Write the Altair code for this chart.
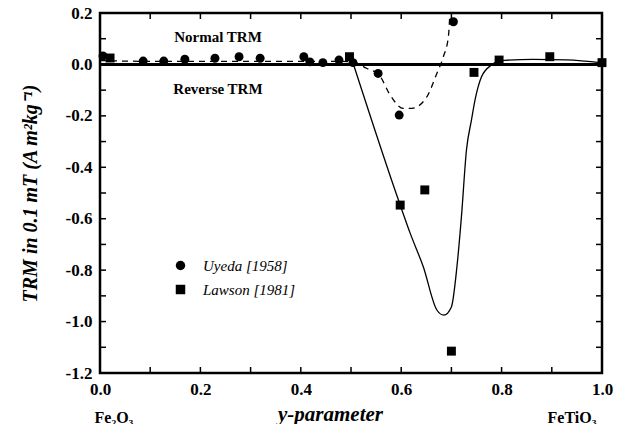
import altair as alt
import pandas as pd

# ---- data ----
uyeda_x = [0.006, 0.086, 0.127, 0.169, 0.229, 0.277, 0.319, 0.406, 0.418, 0.444, 0.476, 0.504, 0.554, 0.596, 0.704]
uyeda_y = [0.033, 0.013, 0.013, 0.020, 0.024, 0.030, 0.024, 0.030, 0.010, 0.007, 0.017, 0.007, -0.035, -0.197, 0.166]
lawson_x = [0.020, 0.497, 0.598, 0.647, 0.700, 0.745, 0.795, 0.896, 1.000]
lawson_y = [0.025, 0.030, -0.547, -0.488, -1.115, -0.031, 0.017, 0.030, 0.007]

lawson_fit_x = [0.505, 0.598, 0.618, 0.644, 0.671, 0.685, 0.700, 0.711, 0.720, 0.730, 0.740, 0.747, 0.760, 0.780, 0.795, 0.863, 0.930, 1.000]
lawson_fit_y = [0.0, -0.547, -0.657, -0.787, -0.955, -0.975, -0.943, -0.787, -0.592, -0.333, -0.216, -0.139, -0.048, -0.002, 0.014, 0.020, 0.018, 0.006]

uyeda_fit_x = [0.0, 0.1, 0.2, 0.3, 0.4, 0.48, 0.505, 0.531, 0.556, 0.578, 0.604, 0.621, 0.651, 0.671, 0.684, 0.694, 0.697]
uyeda_fit_y = [0.015, 0.012, 0.012, 0.012, 0.012, 0.012, 0.009, -0.015, -0.041, -0.119, -0.171, -0.171, -0.126, -0.035, 0.030, 0.108, 0.199]

x_label_values = [0.0, 0.2, 0.4, 0.6, 0.8, 1.0]
x_tick_values = [0.1, 0.2, 0.3, 0.4, 0.5, 0.6, 0.7, 0.8, 0.9]
y_label_values = [-1.2, -1.0, -0.8, -0.6, -0.4, -0.2, 0.0, 0.2]
y_tick_values = [-1.1, -1.0, -0.9, -0.8, -0.7, -0.6, -0.5, -0.4, -0.3, -0.2, -0.1, 0.0, 0.1]
end_values = [0.0, 1.0]

region_labels = ["Normal TRM", "Reverse TRM"]
region_x = [0.235, 0.235]
region_y = [0.107, -0.096]

series_names = ["Uyeda [1958]", "Lawson [1981]"]

SERIF = "Liberation Serif"
W, H = 502, 360
TICK = 6

xs = alt.Scale(domain=[0, 1], nice=False, zero=False)
ys = alt.Scale(domain=[-1.2, 0.2], nice=False, zero=False)

pts = pd.DataFrame({
    "x": uyeda_x + lawson_x,
    "y": uyeda_y + lawson_y,
    "source": [series_names[0]] * len(uyeda_x) + [series_names[1]] * len(lawson_x),
})
lfit = pd.DataFrame({"x": lawson_fit_x, "y": lawson_fit_y})
ufit = pd.DataFrame({"x": uyeda_fit_x, "y": uyeda_fit_y})
regions = pd.DataFrame({"x": region_x, "y": region_y, "label": region_labels})
zero = pd.DataFrame({"y": [0.0]})
xt = pd.DataFrame({"v": x_tick_values})
yt = pd.DataFrame({"v": y_tick_values})

# Layer: zero line + labelled bottom / left axes
zero_line = alt.Chart(zero).mark_rule(color="black", strokeWidth=3).encode(
    x=alt.datum(0, scale=xs, axis=alt.Axis(
        orient="bottom", values=x_label_values, format=".1f",
        ticks=False, domain=False, grid=False, labelOverlap=False,
        labelFont=SERIF, labelFontWeight="bold", labelFontSize=17, labelColor="black",
        labelPadding=8, labelFlush=False,
        title="y-parameter", titleFont=SERIF, titleFontStyle="italic", titleFontWeight="bold",
        titleFontSize=21, titleColor="black", titleX=230, titleY=47, titleBaseline="alphabetic",
        titleAlign="center")),
    x2=alt.datum(1),
    y=alt.Y("y:Q", scale=ys, axis=alt.Axis(
        orient="left", values=y_label_values,
        labelExpr="replace(format(datum.value, '.1f'), '\u2212', '-')",
        ticks=False, domain=False, grid=False, labelOverlap=False,
        labelFont=SERIF, labelFontWeight="bold", labelFontSize=17, labelColor="black", labelPadding=8,
        labelFlush=False,
        title="TRM in 0.1 mT (A m\u00b2kg\u207b\u00b9)", titleFont=SERIF, titleFontStyle="italic",
        titleFontWeight="bold", titleFontSize=20, titleColor="black", titleX=-70, titleY=180,
        titleAngle=270, titleAlign="center", titleBaseline="middle")),
)

# inward tick marks on all four sides, drawn from the tick-value arrays
tick_style = dict(color="black", strokeWidth=1.5)
ticks_bottom = alt.Chart(xt).mark_rule(**tick_style).encode(
    x=alt.X("v:Q", scale=xs, axis=None), y=alt.value(H), y2=alt.value(H - TICK))
ticks_top = alt.Chart(xt).mark_rule(**tick_style).encode(
    x=alt.X("v:Q", scale=xs, axis=None), y=alt.value(0), y2=alt.value(TICK))
ticks_left = alt.Chart(yt).mark_rule(**tick_style).encode(
    y=alt.Y("v:Q", scale=ys, axis=None), x=alt.value(0), x2=alt.value(TICK))
ticks_right = alt.Chart(yt).mark_rule(**tick_style).encode(
    y=alt.Y("v:Q", scale=ys, axis=None), x=alt.value(W), x2=alt.value(W - TICK))

# Lawson fit (solid)
solid = alt.Chart(lfit).mark_line(color="black", strokeWidth=1.3, interpolate="monotone").encode(
    x=alt.X("x:Q", scale=xs, axis=None),
    y=alt.Y("y:Q", scale=ys, axis=None),
)

# Uyeda fit (dashed)
dashed = alt.Chart(ufit).mark_line(color="black", strokeWidth=1.3, strokeDash=[6, 5],
                                   interpolate="monotone").encode(
    x=alt.X("x:Q", scale=xs, axis=None),
    y=alt.Y("y:Q", scale=ys, axis=None),
)

# data points + end-member labels
points = alt.Chart(pts).mark_point(filled=True, color="black", size=80, opacity=1).encode(
    x=alt.X("x:Q", scale=xs, axis=alt.Axis(
        orient="bottom", values=end_values,
        labelExpr="datum.value < 0.5 ? 'Fe\u2082O\u2083' : 'FeTiO\u2083'",
        labelAlign={"condition": {"test": "datum.value < 0.5", "value": "left"}, "value": "right"},
        ticks=False, tickSize=0, domain=False, grid=False, labelFlush=False, labelOverlap=False,
        labelFont=SERIF, labelFontWeight="bold", labelFontSize=16, labelColor="black",
        labelPadding=36, labelOffset=-6, title=None)),
    y=alt.Y("y:Q", scale=ys, axis=None),
    shape=alt.Shape("source:N", scale=alt.Scale(domain=series_names, range=["circle", "square"]),
                    legend=alt.Legend(orient="none", legendX=73, legendY=245, title=None,
                                      symbolSize=90, symbolFillColor="black", symbolStrokeColor="black",
                                      symbolStrokeWidth=0, labelFont=SERIF, labelFontStyle="italic",
                                      labelFontSize=15, labelColor="black", labelOffset=15,
                                      rowPadding=8, padding=0)),
)

# region labels
texts = alt.Chart(regions).mark_text(font=SERIF, fontWeight="bold", fontSize=15, color="black",
                                     align="center", baseline="middle").encode(
    x=alt.X("x:Q", scale=xs, axis=None),
    y=alt.Y("y:Q", scale=ys, axis=None),
    text="label:N",
)

chart = alt.layer(zero_line, ticks_bottom, ticks_top, ticks_left, ticks_right,
                  solid, dashed, points, texts).resolve_axis(
    x="independent", y="independent"
).properties(
    width=W, height=H,
    autosize=alt.AutoSizeParams(type="none"),
    padding={"left": 92, "top": 5, "right": 14, "bottom": 51},
    background="white",
).configure_view(stroke="black", strokeWidth=2.5)

chart.save("out.html", embed_options={"renderer": "svg", "actions": False})
